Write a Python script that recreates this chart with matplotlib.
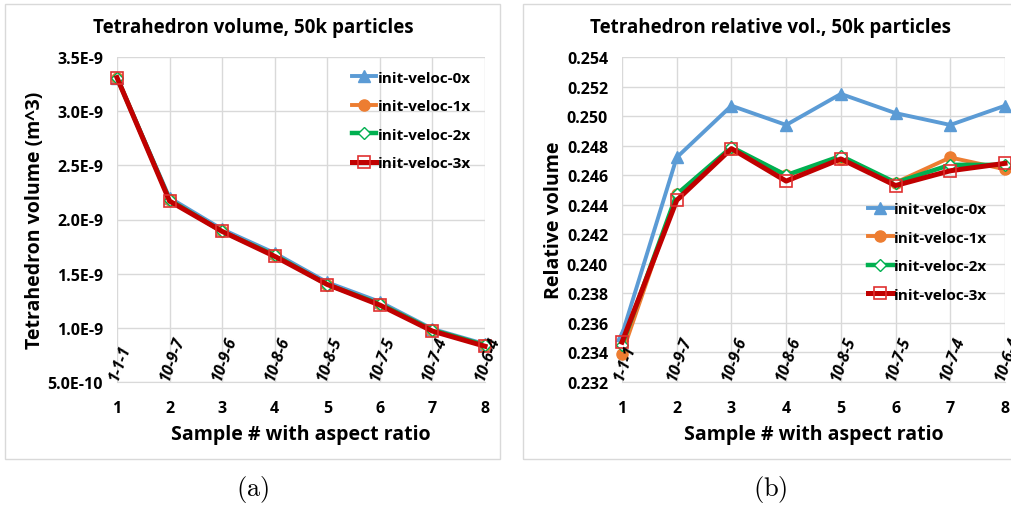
import matplotlib.pyplot as plt
from matplotlib.patches import Rectangle
from matplotlib.ticker import FuncFormatter

samples = [1, 2, 3, 4, 5, 6, 7, 8]
ratios = ['1-1-1', '10-9-7', '10-9-6', '10-8-6', '10-8-5', '10-7-5', '10-7-4', '10-6-4']
series = ['init-veloc-0x', 'init-veloc-1x', 'init-veloc-2x', 'init-veloc-3x']

# volumes in m^3
vol_0x = [3.31e-9, 2.20e-9, 1.91e-9, 1.69e-9, 1.42e-9, 1.24e-9, 0.99e-9, 0.85e-9]
vol_1x = [3.31e-9, 2.18e-9, 1.89e-9, 1.67e-9, 1.40e-9, 1.22e-9, 0.98e-9, 0.84e-9]
vol_2x = [3.31e-9, 2.18e-9, 1.89e-9, 1.67e-9, 1.40e-9, 1.22e-9, 0.98e-9, 0.84e-9]
vol_3x = [3.31e-9, 2.17e-9, 1.89e-9, 1.66e-9, 1.40e-9, 1.21e-9, 0.97e-9, 0.83e-9]

rel_0x = [0.2352, 0.2472, 0.2507, 0.2494, 0.2515, 0.2502, 0.2494, 0.2507]
rel_1x = [0.2339, 0.2447, 0.2478, 0.2460, 0.2471, 0.2455, 0.2472, 0.2464]
rel_2x = [0.2345, 0.2447, 0.2479, 0.2460, 0.2473, 0.2455, 0.2467, 0.2467]
rel_3x = [0.2347, 0.2443, 0.2478, 0.2456, 0.2471, 0.2453, 0.2463, 0.2468]

colors = ['#5B9BD5', '#ED7D31', '#00B050', '#C00000']
styles = [
    dict(marker='^', ms=8, lw=2.8, mfc='#5B9BD5', mec='#5B9BD5'),
    dict(marker='o', ms=8, lw=2.8, mfc='#ED7D31', mec='#ED7D31'),
    dict(marker='D', ms=6, lw=3.2, mfc='white', mec='#00B050', mew=1),
    dict(marker='s', ms=9, lw=3.6, mfc='none', mec='#E03030', mew=1.2),
]

plt.rcParams['font.family'] = ['Open Sans', 'DejaVu Sans']
plt.rcParams['mathtext.fontset'] = 'cm'

fig = plt.figure(figsize=(10.11, 5.06), dpi=100)

# panel frames
for x0, w in [(5, 495), (523, 500)]:
    fig.patches.append(Rectangle((x0 / 1011, 1 - 460 / 506), w / 1011, 455 / 506,
                                 transform=fig.transFigure, fill=False,
                                 ec='#D9D9D9', lw=1))


def panel(ax, data, ylim, yticks, fmt, title, ylabel, caption, legend_loc, title_x):
    for vals, name, c, st in zip(data, series, colors, styles):
        ax.plot(samples, vals, color=c, label=name, clip_on=False, **st)
    ax.set_xlim(1, 8)
    ax.set_ylim(*ylim)
    ax.set_xticks(samples)
    ax.set_yticks(yticks)
    ax.yaxis.set_major_formatter(FuncFormatter(fmt))
    ax.grid(True, color='#D9D9D9', lw=1)
    ax.set_axisbelow(True)
    for s in ['top', 'right', 'left']:
        ax.spines[s].set_visible(False)
    ax.spines['bottom'].set_color('#D9D9D9')
    ax.tick_params(length=0, labelsize=11.5, pad=13)
    for lab in ax.get_xticklabels() + ax.get_yticklabels():
        lab.set_fontweight('bold')
    ax.tick_params(axis='y', pad=10)
    for x, r in zip(samples, ratios):
        ax.text(x + 0.05, ylim[0], r, rotation=70, ha='center', va='bottom',
                fontsize=11.5, style='italic', fontweight='bold')
    ax.set_xlabel('Sample # with aspect ratio', fontsize=14, fontweight='bold', labelpad=6)
    ax.set_ylabel(ylabel, fontsize=14, fontweight='bold', labelpad=2)
    fig.text(title_x, 1 - 28 / 506, title, ha='center', va='center',
             fontsize=13.5, fontweight='bold')
    fig.text(title_x, 1 - 490 / 506, caption, ha='center', va='center', fontsize=19)
    leg = ax.legend(loc=legend_loc, frameon=False, fontsize=11, handlelength=1.6,
                    handletextpad=0.1, labelspacing=0.95)
    for t in leg.get_texts():
        t.set_fontweight('bold')


ax1 = fig.add_axes([117 / 1011, 1 - 383 / 506, 368 / 1011, 325 / 506])
panel(ax1, [vol_0x, vol_1x, vol_2x, vol_3x], (0.5e-9, 3.5e-9),
      [0.5e-9, 1.0e-9, 1.5e-9, 2.0e-9, 2.5e-9, 3.0e-9, 3.5e-9],
      lambda v, p: ('%.1E' % v).replace('E-0', 'E-'),
      'Tetrahedron volume, 50k particles', 'Tetrahedron volume (m^3)',
      r'$\mathrm{(a)}$', 'upper right', 253 / 1011)
ax1.legend_.set_bbox_to_anchor((1.0, 1.0))

ax2 = fig.add_axes([622 / 1011, 1 - 383 / 506, 383 / 1011, 325 / 506])
panel(ax2, [rel_0x, rel_1x, rel_2x, rel_3x], (0.232, 0.254),
      [0.232 + 0.002 * i for i in range(12)],
      lambda v, p: '%.3f' % v,
      'Tetrahedron relative vol., 50k particles', 'Relative volume',
      r'$\mathrm{(b)}$', 'center right', 770 / 1011)
ax2.legend_.set_bbox_to_anchor((0.99, 0.4))

fig.savefig('out.png', dpi=100)
